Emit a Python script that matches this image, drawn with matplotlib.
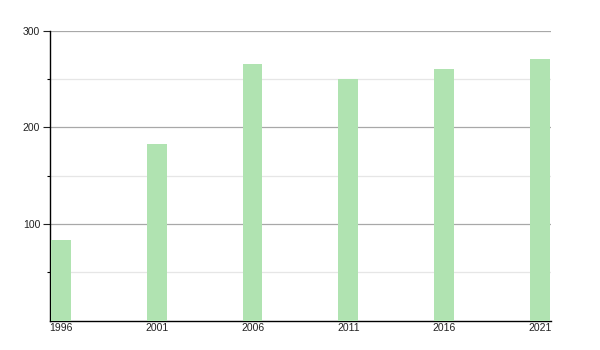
import matplotlib.pyplot as plt
import numpy as np

years = ['1996', '2001', '2006', '2011', '2016', '2021']
values = [84, 183, 266, 250, 260, 271]

plt.rcParams['font.family'] = ['Liberation Sans', 'DejaVu Sans']

fig = plt.figure(figsize=(6, 3.5), dpi=100)
ax = fig.add_axes([50/600, 29.3/350, 501/600, 290/350])

x = np.arange(len(years))
w = 0.208
ax.bar(x, values, width=w, align='edge', color='#b0e3b1', zorder=3)

ax.set_xlim(-0.01, 5.22)
ax.set_ylim(0, 300)

ax.set_yticks([100, 200, 300])
ax.set_yticks([50, 150, 250], minor=True)
ax.grid(axis='y', which='major', color='#a8a8a8', linewidth=0.9, zorder=1)
ax.grid(axis='y', which='minor', color='#e6e6e6', linewidth=0.9, zorder=1)

ax.set_xticks(x + w/2)
ax.set_xticklabels(years)
ax.tick_params(axis='x', length=0, pad=2, labelsize=7.5, colors='#222222')
ax.tick_params(axis='y', which='major', length=5, width=0.8, pad=2, labelsize=7.5, colors='#222222')
ax.tick_params(axis='y', which='minor', length=2, width=0.8)

for s in ['top', 'right']:
    ax.spines[s].set_visible(False)
for s in ['left', 'bottom']:
    ax.spines[s].set_color('black')
    ax.spines[s].set_linewidth(1)

fig.savefig('out.png', dpi=100)
